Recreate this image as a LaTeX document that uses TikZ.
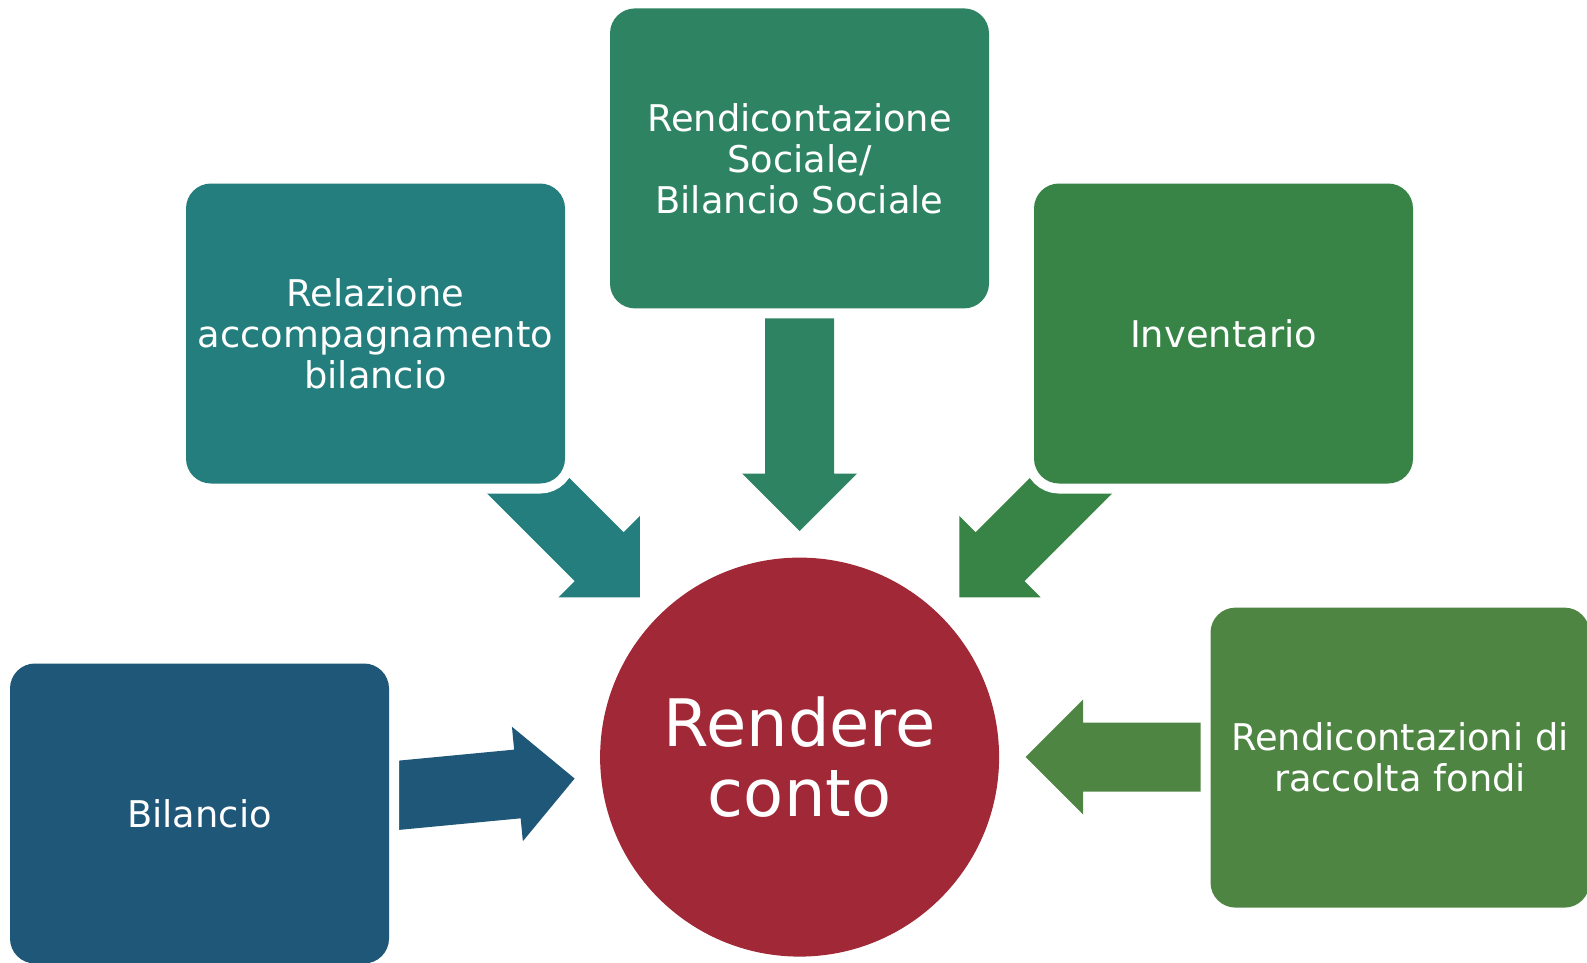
\documentclass[tikz,border=0pt]{standalone}
\usepackage{fontspec}
\setmainfont{DejaVu Sans}
\usetikzlibrary{backgrounds}
\definecolor{cBil}{RGB}{31,87,121}
\definecolor{cRel}{RGB}{35,126,125}
\definecolor{cSoc}{RGB}{46,132,98}
\definecolor{cInv}{RGB}{55,132,70}
\definecolor{cRac}{RGB}{79,133,67}
\definecolor{cRed}{RGB}{161,40,55}
\tikzset{
  box/.style={rectangle, rounded corners=25pt, minimum width=379pt, minimum height=300pt,
    inner sep=0pt, text=white, align=center, font=\fontsize{36.8}{41}\selectfont,
    preaction={draw=white, line width=20pt}},
  hub/.style={circle, minimum size=399pt, inner sep=0pt, fill=cRed, text=white,
    align=center, font=\fontsize{65.5}{70}\selectfont},
  blockarrow/.style={draw=none}
}
\begin{document}
\begin{tikzpicture}[x=1pt,y=-1pt]
\useasboundingbox (0,0) rectangle (1587,963);
\node[hub] (c) at (799.6,757.1) {Rendere\\conto};
\node[box, fill=cBil] (bil) at (199.5,813.5) {Bilancio};
\node[box, fill=cRel] (rel) at (375.5,333.5) {Relazione\\accompagnamento\\bilancio};
\node[box, fill=cSoc] (soc) at (799.5,158.4) {Rendicontazione\\Sociale/\\Bilancio Sociale};
\node[box, fill=cInv] (inv) at (1223.5,333.5) {Inventario};
\node[box, fill=cRac] (rac) at (1400,757.6) {Rendicontazioni di\\raccolta fondi};
\begin{scope}[on background layer]
\foreach \ang/\col in {5.44/cBil, -45/cRel, -90/cSoc, -135/cInv, 180/cRac}{
  \fill[\col, blockarrow, shift={(c.center)}, rotate=\ang]
    (-226,0) -- (-283.5,57.5) -- (-283.5,34.5) -- (-466,34.5) -- (-466,-34.5)
    -- (-283.5,-34.5) -- (-283.5,-57.5) -- cycle;
}
\end{scope}
\end{tikzpicture}
\end{document}
